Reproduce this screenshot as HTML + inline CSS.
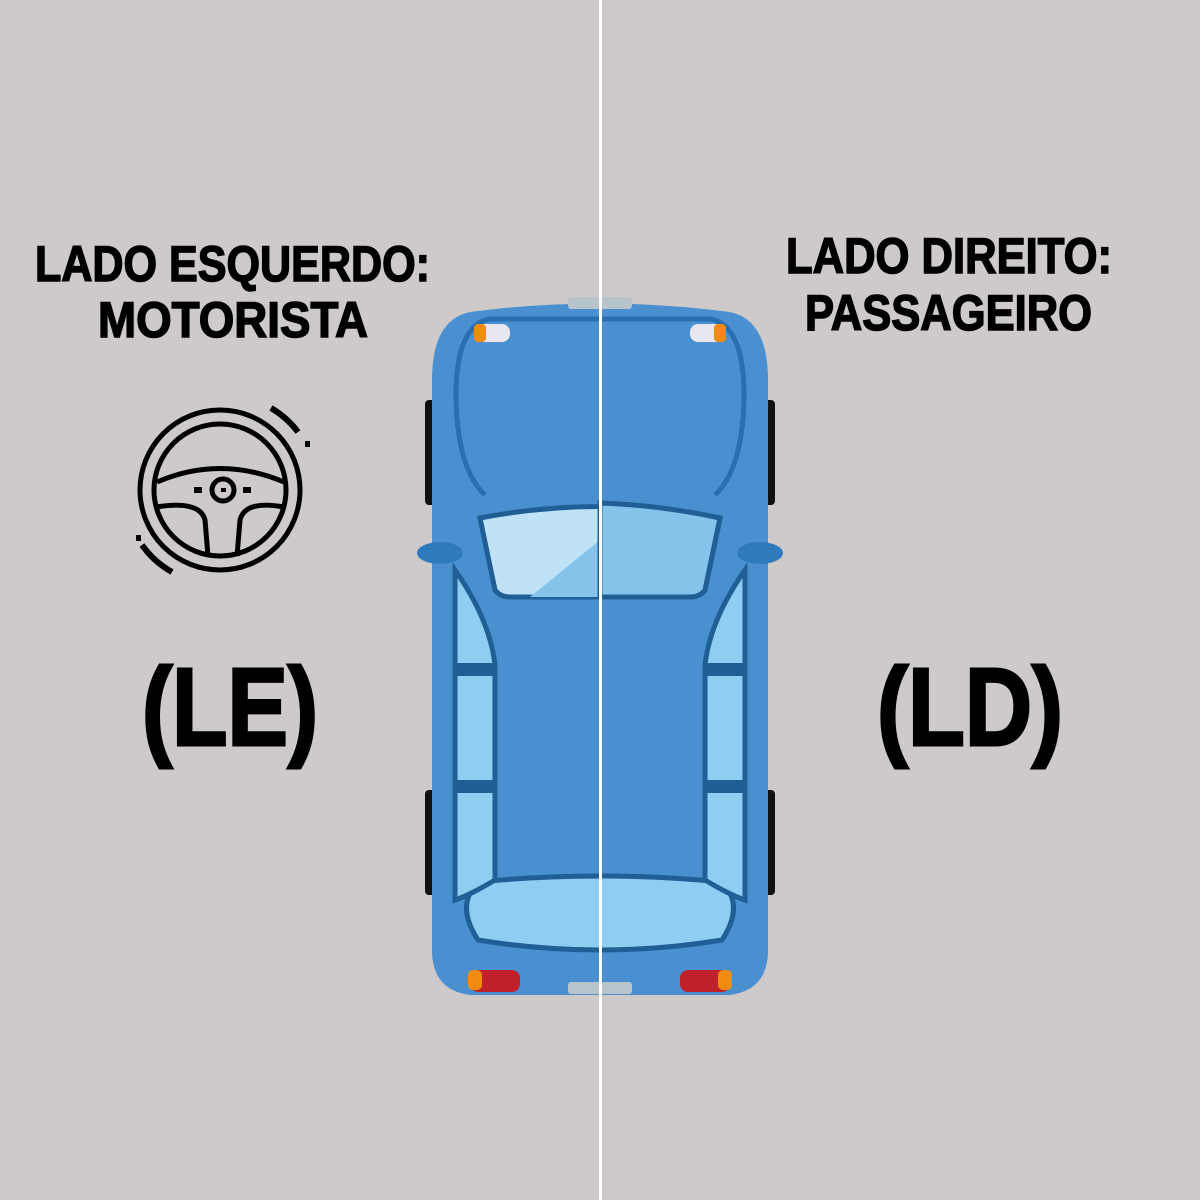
<!DOCTYPE html>
<html><head><meta charset="utf-8"><style>
html,body{margin:0;padding:0;background:#cdcac9}
svg{display:block}
text{font-family:"Liberation Sans",sans-serif;font-weight:bold;fill:#000;stroke:#000;stroke-width:1.5}
</style></head><body>
<svg width="1200" height="1200" viewBox="0 0 1200 1200" xmlns="http://www.w3.org/2000/svg">
<rect width="1200" height="1200" fill="#cdcac9"/>
<text x="35" y="281" font-size="50" textLength="395" lengthAdjust="spacingAndGlyphs">LADO ESQUERDO:</text>
<text x="98" y="337" font-size="50" textLength="270" lengthAdjust="spacingAndGlyphs">MOTORISTA</text>
<text x="786" y="273" font-size="50" textLength="326" lengthAdjust="spacingAndGlyphs">LADO DIREITO:</text>
<text x="805" y="330" font-size="50" textLength="287" lengthAdjust="spacingAndGlyphs">PASSAGEIRO</text>
<text x="142" y="745" font-size="110" textLength="176" lengthAdjust="spacingAndGlyphs" style="stroke-width:3">(LE)</text>
<text x="877" y="745" font-size="110" textLength="186" lengthAdjust="spacingAndGlyphs" style="stroke-width:3">(LD)</text>
<g fill="none" stroke="#000" stroke-width="5">
<circle cx="220" cy="490" r="80"/>
<circle cx="220" cy="490" r="66"/>
<circle cx="223" cy="490" r="11"/>
<path d="M157 482 Q220 455 284 482"/>
<path d="M156 507 Q200 500 205 520 L208 556"/>
<path d="M284 507 Q245 500 240 520 L237 556"/>
<path d="M271 408 A92 92 0 0 1 298 432" stroke-width="6"/>
<path d="M142 545 A92 92 0 0 0 172 572" stroke-width="6"/>
</g>
<rect x="194" y="487" width="8" height="6" fill="#000"/>
<rect x="243" y="487" width="8" height="6" fill="#000"/>
<rect x="221" y="488" width="5" height="4" fill="#000"/>
<rect x="305" y="441" width="5" height="6" fill="#000"/>
<rect x="136" y="535" width="5" height="6" fill="#000"/>
<g>
<rect x="425" y="400" width="14" height="105" rx="4" fill="#111"/>
<rect x="425" y="790" width="14" height="105" rx="4" fill="#111"/>
<rect x="761" y="400" width="14" height="105" rx="4" fill="#111"/>
<rect x="761" y="790" width="14" height="105" rx="4" fill="#111"/>
<path d="M470 312 Q600 295 730 312 Q768 320 768 380 L768 950 Q768 990 730 995 L470 995 Q432 990 432 950 L432 380 Q432 320 470 312 Z" fill="#4a8fd0"/>
<rect x="568" y="297" width="64" height="12" rx="3" fill="#b8c4cc"/>
<rect x="568" y="982" width="64" height="12" rx="3" fill="#b8c4cc"/>
<ellipse cx="440" cy="553" rx="23" ry="11" fill="#2f79bd"/>
<ellipse cx="760" cy="553" rx="23" ry="11" fill="#2f79bd"/>
<path d="M487 319 L710 319 Q745 325 744 400 Q742 470 715 495" fill="none" stroke="#2a6fb0" stroke-width="5"/>
<path d="M713 319 L490 319 Q455 325 456 400 Q458 470 485 495" fill="none" stroke="#2a6fb0" stroke-width="5"/>
<rect x="476" y="324" width="34" height="18" rx="8" fill="#e8e6ee"/>
<rect x="474" y="324" width="12" height="18" rx="4" fill="#f08a10"/>
<rect x="690" y="324" width="34" height="18" rx="8" fill="#e8e6ee"/>
<rect x="714" y="324" width="12" height="18" rx="4" fill="#f08a10"/>
<rect x="470" y="970" width="50" height="22" rx="8" fill="#c0202a"/>
<rect x="468" y="970" width="14" height="20" rx="5" fill="#f08a10"/>
<rect x="680" y="970" width="50" height="22" rx="8" fill="#c0202a"/>
<rect x="718" y="970" width="14" height="20" rx="5" fill="#f08a10"/>
<path d="M480 518 Q600 495 720 518 L705 590 Q700 597 690 597 L510 597 Q500 597 495 590 Z" fill="#bfe2f7" stroke="#1f5f96" stroke-width="5"/>
<path d="M600 540 L600 597 L530 597 Z" fill="#86c3ea"/>
<path d="M600 503 Q660 505 720 518 L705 590 Q700 597 690 597 L600 597 Z" fill="#86c3ea" stroke="#1f5f96" stroke-width="5"/>
<path d="M478 882 Q600 870 722 882 Q745 905 722 940 Q600 960 478 940 Q455 905 478 882 Z" fill="#8fcdf2" stroke="#1f5f96" stroke-width="5"/>
<g fill="#8fcdf2" stroke="#1f5f96" stroke-width="5">
<path d="M455 570 Q490 620 495 665 L495 880 Q470 895 455 900 Z"/>
<path d="M745 570 Q710 620 705 665 L705 880 Q730 895 745 900 Z"/>
</g>
<rect x="455" y="663" width="40" height="13" fill="#1f5f96"/>
<rect x="455" y="780" width="40" height="13" fill="#1f5f96"/>
<rect x="705" y="663" width="40" height="13" fill="#1f5f96"/>
<rect x="705" y="780" width="40" height="13" fill="#1f5f96"/>
</g>
<rect x="599" y="0" width="3" height="1200" fill="#ffffff"/>
</svg>
</body></html>
